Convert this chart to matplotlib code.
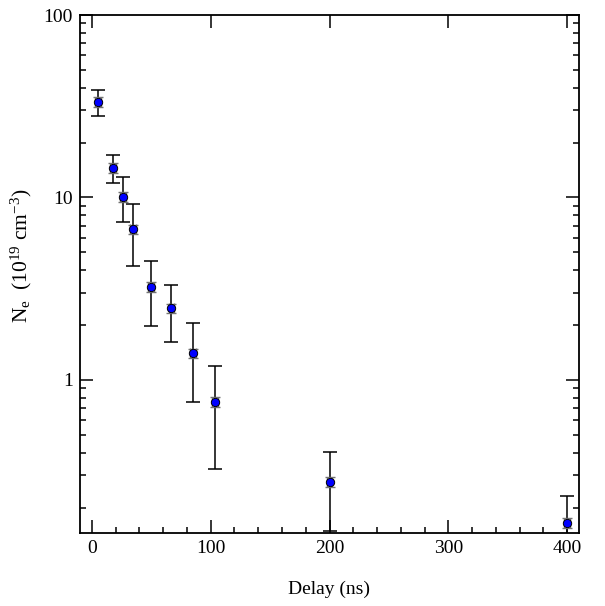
import numpy as np
import matplotlib
matplotlib.use("Agg")
import matplotlib.pyplot as plt
from matplotlib.ticker import FixedLocator, FuncFormatter, LogLocator, MultipleLocator

plt.rcParams['font.family'] = ['Liberation Serif', 'DejaVu Serif']
plt.rcParams['mathtext.default'] = 'regular'

# delay (ns) vs electron density (1e19 cm^-3)
delay = [5, 18, 26, 35, 50, 67, 85, 104, 200, 400]
density = [33.5, 14.5, 10.1, 6.7, 3.24, 2.47, 1.40, 0.76, 0.277, 0.165]
density_err = [5.5, 2.5, 2.8, 2.5, 1.27, 0.86, 0.64, 0.435, 0.128, 0.066]
# small instrument errors drawn in grey
delay_err_small = [2.5] * len(delay)
density_err_small = [d * 0.06 for d in density]

fig = plt.figure(figsize=(6.05, 6.06), dpi=100)
ax = fig.add_axes([80 / 605, 1 - 533 / 606, 499 / 605, 518 / 606])

ax.errorbar(delay, density, yerr=density_err, fmt="none", ecolor="black",
            elinewidth=1.1, capsize=5, capthick=1.1, zorder=2)
ax.errorbar(delay, density, xerr=delay_err_small, yerr=density_err_small, fmt="none",
            ecolor="0.45", elinewidth=1.0, capsize=3.5, capthick=1.0, zorder=3)
ax.plot(delay, density, "o", ms=6, mfc=(0, 0, 1), mec="black", mew=0.7, zorder=4)

ax.set_yscale("log")
ax.set_xlim(-10, 410)
ax.set_ylim(0.145, 100)

ax.xaxis.set_major_locator(MultipleLocator(100))
ax.xaxis.set_minor_locator(MultipleLocator(20))
ax.yaxis.set_major_locator(FixedLocator([1, 10, 100]))
ax.yaxis.set_major_formatter(FuncFormatter(lambda v, p: "%g" % v))
ax.yaxis.set_minor_locator(LogLocator(base=10, subs=np.arange(2, 10)))
ax.yaxis.set_minor_formatter(FuncFormatter(lambda v, p: ""))

ax.tick_params(which="both", direction="in", top=True, right=True, labelsize=14, width=1.1)
ax.tick_params(which="major", length=9.5, pad=5)
ax.tick_params(which="minor", length=4.5)
ax.tick_params(axis="x", which="minor", top=False)
for s in ax.spines.values():
    s.set_linewidth(1.3)

ax.set_xlabel("Delay (ns)", fontsize=14, labelpad=17)
ax.set_ylabel(r"N$_{e}$  (10$^{19}$ cm$^{-3}$)", fontsize=15.5)
ax.yaxis.set_label_coords(-0.092, 0.535)

fig.savefig("out.png", dpi=100)
